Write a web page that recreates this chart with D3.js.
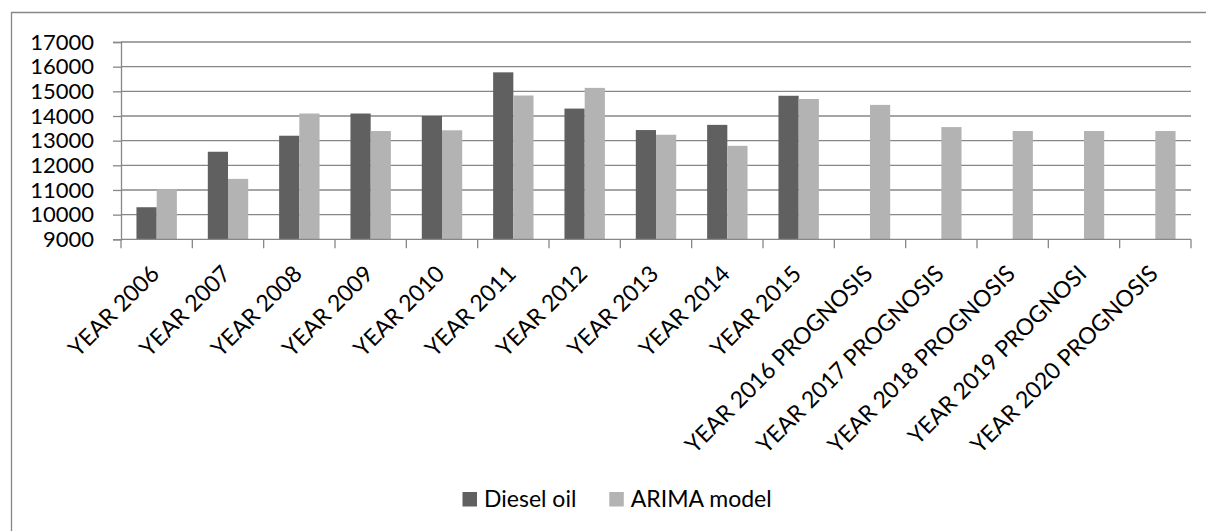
<!DOCTYPE html>
<html>
<head>
<meta charset="utf-8">
<script src="https://cdn.jsdelivr.net/npm/d3@7"></script>
<style>
  html, body { margin: 0; padding: 0; background: #fff; }
  svg { display: block; }
  text { font-family: Lato, "Open Sans", sans-serif; fill: #000; }
</style>
</head>
<body>
<svg id="chart" width="1206" height="531"></svg>
<script>
// ---- data ----
const categories = [
  "YEAR 2006", "YEAR 2007", "YEAR 2008", "YEAR 2009", "YEAR 2010",
  "YEAR 2011", "YEAR 2012", "YEAR 2013", "YEAR 2014", "YEAR 2015",
  "YEAR 2016 PROGNOSIS", "YEAR 2017 PROGNOSIS", "YEAR 2018 PROGNOSIS",
  "YEAR 2019 PROGNOSI", "YEAR 2020 PROGNOSIS"
];
const seriesNames = ["Diesel oil", "ARIMA model"];
const dieselOil = [10300, 12550, 13200, 14100, 14000, 15770, 14300, 13430, 13640, 14820,
                   null, null, null, null, null];
const arimaModel = [11030, 11450, 14100, 13390, 13420, 14830, 15140, 13240, 12790, 14690,
                    14450, 13550, 13390, 13390, 13390];
const yTicks = [9000, 10000, 11000, 12000, 13000, 14000, 15000, 16000, 17000];
const seriesColors = ["#606060", "#b3b3b3"];

(function () {
// ---- layout ----
const svg = d3.select("#chart");
const pLeft = 121, pRight = 1191, pTop = 42, pBottom = 239.3;
const gridColor = "#878787";

// outer chart border (extends beyond the visible frame on right/bottom)
svg.append("path")
  .attr("d", `M11.5,${600} L11.5,12.5 L1300,12.5`)
  .attr("fill", "none").attr("stroke", gridColor).attr("stroke-width", 1.3);

const x0 = d3.scaleBand().domain(categories).range([pLeft, pRight]).padding(0);
const step = x0.bandwidth();
const barW = 20.2;
const x1 = d3.scaleBand().domain(seriesNames)
  .range([step / 2 - barW, step / 2 + barW]).padding(0);
const y = d3.scaleLinear().domain([9000, 17000]).range([pBottom, pTop]);

// y axis ticks + labels
const yAxis = d3.axisLeft(y).tickValues(yTicks).tickSize(8).tickPadding(19)
  .tickFormat(d3.format("d"));
const gy = svg.append("g").attr("transform", `translate(${pLeft},0)`).call(yAxis);
gy.select(".domain").attr("stroke", gridColor).attr("stroke-width", 1.3);
gy.selectAll(".tick line").attr("stroke", gridColor).attr("stroke-width", 1.3);
gy.selectAll(".tick text").attr("font-size", 22).attr("font-family", "Lato").attr("fill", "#000");

// gridlines
svg.append("g").selectAll("line").data(yTicks.filter(d => d > 9000)).join("line")
  .attr("x1", pLeft).attr("x2", pRight)
  .attr("y1", d => y(d)).attr("y2", d => y(d))
  .attr("stroke", gridColor).attr("stroke-width", 1.3);

// bars
const rows = categories.map((c, i) => ({ cat: c, values: [dieselOil[i], arimaModel[i]] }));
const groups = svg.append("g").selectAll("g").data(rows).join("g")
  .attr("transform", d => `translate(${x0(d.cat)},0)`);
groups.selectAll("rect")
  .data(d => d.values.map((v, k) => ({ name: seriesNames[k], value: v, k })).filter(e => e.value != null))
  .join("rect")
  .attr("x", d => x1(d.name))
  .attr("width", x1.bandwidth())
  .attr("y", d => y(d.value))
  .attr("height", d => y(9000) - y(d.value))
  .attr("fill", d => seriesColors[d.k]);

// x axis with category boundary ticks
const xg = svg.append("g");
xg.append("line").attr("x1", pLeft).attr("x2", pRight).attr("y1", pBottom).attr("y2", pBottom)
  .attr("stroke", gridColor).attr("stroke-width", 1.3);
const boundaries = categories.map(c => x0(c)).concat([pRight]);
xg.selectAll("line.tk").data(boundaries).join("line").attr("class", "tk")
  .attr("x1", d => d).attr("x2", d => d).attr("y1", pBottom).attr("y2", pBottom + 9)
  .attr("stroke", gridColor).attr("stroke-width", 1.3);

// rotated category labels
xg.selectAll("text").data(categories).join("text")
  .attr("transform", d => `translate(${x0(d) + step / 2 + 4},${pBottom + 36}) rotate(-45)`)
  .attr("text-anchor", "end")
  .attr("font-size", 23)
  .text(d => d);

// legend
const legendX = [462.5, 609.3];
const lg = svg.append("g").selectAll("g").data(seriesNames).join("g")
  .attr("transform", (d, i) => `translate(${legendX[i]},492)`);
lg.append("rect").attr("width", 14.5).attr("height", 14.5)
  .attr("fill", (d, i) => seriesColors[i]);
lg.append("text").attr("x", 21.5).attr("y", 14.7).attr("font-size", 23).text(d => d);
})();
</script>
</body>
</html>
